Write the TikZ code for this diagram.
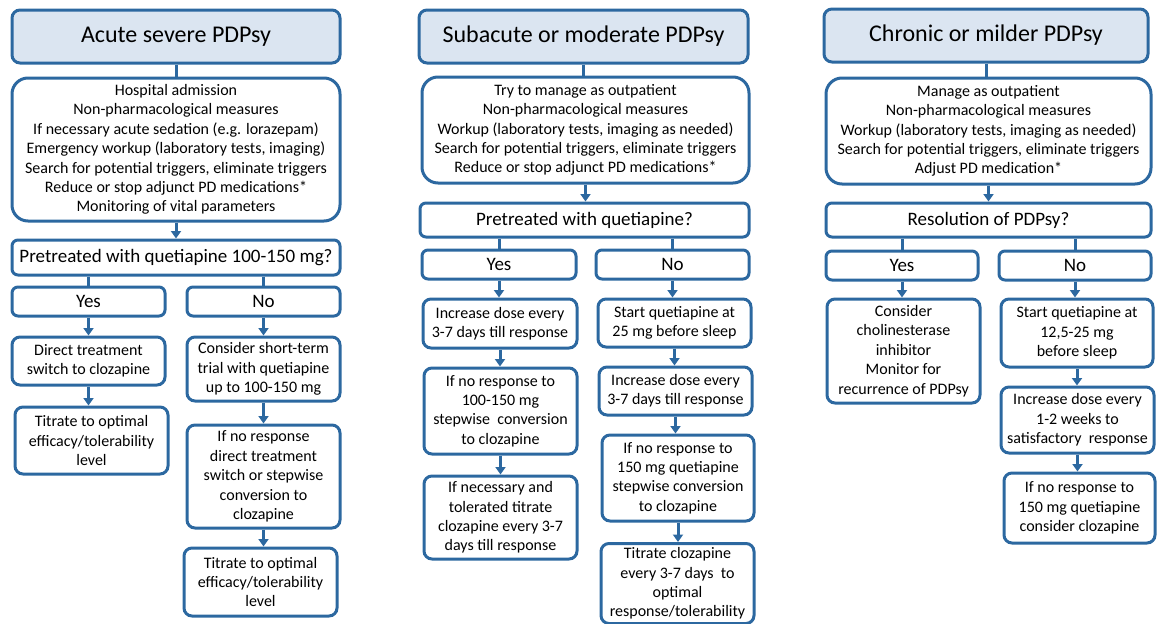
\documentclass[tikz,border=0pt]{standalone}
\usepackage{fontspec}
\setmainfont{Carlito}
\usetikzlibrary{arrows.meta}
\definecolor{bord}{RGB}{44,104,160}
\definecolor{hfill}{RGB}{219,229,241}
\tikzset{
 box/.style={draw=bord, line width=3pt, rounded corners=8pt, align=center, inner sep=0pt, font=\fontsize{16}{19.4}\selectfont},
 headbox/.style={box, fill=hfill, font=\fontsize{24}{28}\selectfont},
 bigbox/.style={box, rounded corners=16pt},
 qbox/.style={box, rounded corners=6pt, font=\fontsize{19}{22}\selectfont},
 conn/.style={draw=bord, line width=3pt},
 arr/.style={conn, -{Triangle[width=10pt,length=7.5pt]}},
}
\newcommand{\bx}[6]{\node[#1, minimum width=#2pt, minimum height=#3pt] (#4) at (#5) {#6};}
\begin{document}
\begin{tikzpicture}[x=1pt,y=-1pt]
\useasboundingbox (0,0) rectangle (1160,624);
% ---------- column 1
\bx{headbox}{328}{53}{h1}{176,36.5}{Acute severe PDPsy}
\bx{bigbox}{328}{143}{b1}{176,149.5}{Hospital admission\\Non-pharmacological measures\\If necessary acute sedation (e.g. lorazepam)\\Emergency workup (laboratory tests, imaging)\\Search for potential triggers, eliminate triggers\\Reduce or stop adjunct PD medications*\\Monitoring of vital parameters}
\bx{qbox}{328}{35}{q1}{176,257.5}{Pretreated with quetiapine 100-150 mg?}
\bx{qbox}{153}{29}{y1}{88.5,301.5}{Yes}
\bx{qbox}{153}{29}{n1}{263.5,301.5}{No}
\bx{box}{153}{48}{a1}{88.5,361}{Direct treatment\\switch to clozapine}
\bx{box}{153}{67}{a2}{91.5,440.5}{Titrate to optimal\\efficacy/tolerability\\level}
\bx{box}{153}{64}{c1}{263.5,369}{Consider short-term\\trial with quetiapine\\up to 100-150 mg}
\bx{box}{153}{103}{c2}{263.5,476.5}{If no response\\direct treatment\\switch or stepwise\\conversion to\\clozapine}
\bx{box}{153}{68}{c3}{260.5,582}{Titrate to optimal\\efficacy/tolerability\\level}
% ---------- column 2
\bx{headbox}{329}{53}{h2}{583.5,36.5}{Subacute or moderate PDPsy}
\bx{bigbox}{327}{106}{b2}{585.5,130}{Try to manage as outpatient\\Non-pharmacological measures\\Workup (laboratory tests, imaging as needed)\\Search for potential triggers, eliminate triggers\\Reduce or stop adjunct PD medications*}
\bx{qbox}{329}{34}{q2}{584.5,220}{Pretreated with quetiapine?}
\bx{qbox}{154}{29}{y2}{499,264.5}{Yes}
\bx{qbox}{153}{29}{n2}{672.5,264.5}{No}
\bx{box}{154}{49}{d1}{500,323.5}{Increase dose every\\3-7 days till response}
\bx{box}{153}{86}{d2}{500.5,411}{If no response to\\100-150 mg\\stepwise\ \ conversion\\to clozapine}
\bx{box}{153}{83}{d3}{500.5,517.5}{If necessary and\\tolerated titrate\\clozapine every 3-7\\days till response}
\bx{box}{153}{48}{e1}{674.5,323}{Start quetiapine at\\25 mg before sleep}
\bx{box}{153}{48}{e2}{675.5,391}{Increase dose every\\3-7 days till response}
\bx{box}{152}{86}{e3}{678,478}{If no response to\\150 mg quetiapine\\stepwise conversion\\to clozapine}
\bx{box}{153}{80}{e4}{677.5,583.5}{Titrate clozapine\\every 3-7 days\ \ to\\optimal\\response/tolerability}
% ---------- column 3
\bx{headbox}{324}{53}{h3}{986,35.5}{Chronic or milder PDPsy}
\bx{bigbox}{325}{106}{b3}{988.5,131}{Manage as outpatient\\Non-pharmacological measures\\Workup (laboratory tests, imaging as needed)\\Search for potential triggers, eliminate triggers\\Adjust PD medication*}
\bx{qbox}{325}{34}{q3}{988.5,220}{Resolution of PDPsy?}
\bx{qbox}{152}{29}{y3}{902,265.5}{Yes}
\bx{qbox}{152}{29}{n3}{1075,265.5}{No}
\bx{box}{153}{104}{f1}{903.5,351}{Consider\\cholinesterase\\inhibitor\\Monitor for\\recurrence of PDPsy}
\bx{box}{152}{68}{g1}{1077,333}{Start quetiapine at\\12,5-25 mg\\before sleep}
\bx{box}{153}{66}{g2}{1077.5,420}{Increase dose every\\1-2 weeks to\\satisfactory\ \ response}
\bx{box}{151}{70}{g3}{1079.5,508}{If no response to\\150 mg quetiapine\\consider clozapine}
% ---------- connectors
\foreach \h/\b/\q/\y/\n in {h1/b1/q1/y1/n1, h2/b2/q2/y2/n2, h3/b3/q3/y3/n3}{
  \draw[conn] (\h.south) -- (\h.south |- \b.north);
  \draw[arr] (\b.south) -- (\b.south |- \q.north);
  \draw[conn] (\q.south -| \y.north) -- (\y.north);
  \draw[conn] (\q.south -| \n.north) -- (\n.north);
}
\foreach \s/\t in {y1/a1, a1/a2, n1/c1, c1/c2, c2/c3, y2/d1, d1/d2, d2/d3, n2/e1, e1/e2, e2/e3, e3/e4, y3/f1, n3/g1, g1/g2, g2/g3}{
  \draw[arr] (\s.south) -- (\s.south |- \t.north);
}
\end{tikzpicture}
\end{document}
